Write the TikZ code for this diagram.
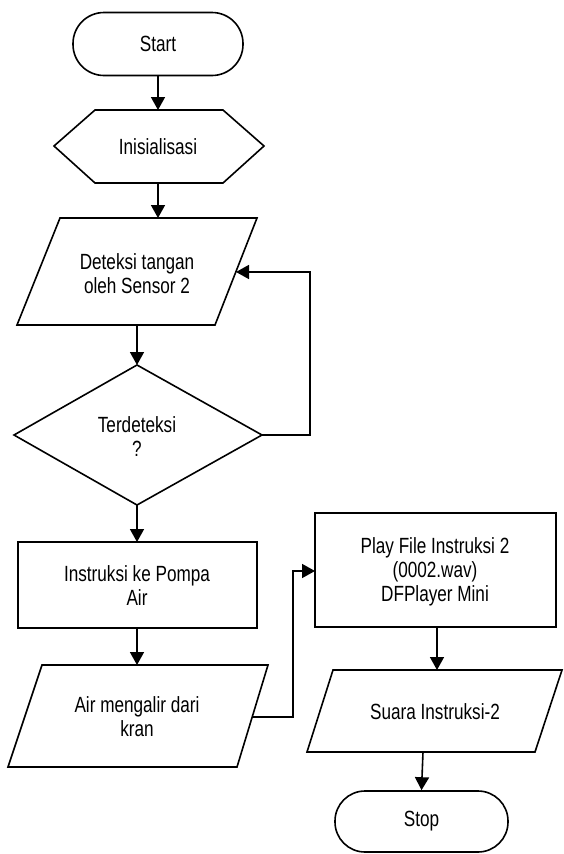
\documentclass[tikz,border=0pt]{standalone}
\usepackage{fontspec}
\setmainfont[FakeStretch=0.78]{Liberation Sans}
\usetikzlibrary{arrows.meta}
\begin{document}
\begin{tikzpicture}[x=1pt,y=-1pt,
  shp/.style={line width=1.6pt, line join=miter},
  lbl/.style={align=center, inner sep=0pt, font=\fontsize{22}{24}\selectfont},
  conn/.style={line width=1.6pt, -{Triangle[length=13pt,width=14pt]}},
  plain/.style={line width=1.6pt}]
\fill[white] (0,0) rectangle (563,854);
\useasboundingbox (0,0) rectangle (563,854);

% Start
\node[shp, draw, rounded corners=31pt, minimum width=170pt, minimum height=63pt, lbl] (start) at (158,44) {Start};
% Inisialisasi hexagon
\draw[shp] (54,146) -- (95,110) -- (223,110) -- (264,146) -- (223,183) -- (95,183) -- cycle;
\coordinate (iniT) at (158,110);
\coordinate (iniB) at (158,183);
\node[lbl] (ini) at (158,147) {Inisialisasi};
% Deteksi parallelogram
\draw[shp] (60,218) -- (257,218) -- (215,325) -- (17,325) -- cycle;
\coordinate (detT) at (158,218);
\coordinate (detB) at (137,325);
\coordinate (detR) at (236,272);
\node[lbl] (det) at (137,274) {Deteksi tangan\\oleh Sensor 2};
% Diamond
\draw[shp] (137,365) -- (262,435) -- (137,505) -- (14,435) -- cycle;
\coordinate (decT) at (137,365);
\coordinate (decR) at (262,435);
\coordinate (decB) at (137,505);
\node[lbl] (dec) at (137,437) {Terdeteksi\\?};
% Instruksi rect
\draw[shp] (18,542) rectangle (257,628);
\coordinate (insT) at (137,542);
\coordinate (insB) at (137,628);
\node[lbl] (ins) at (137,586) {Instruksi ke Pompa\\Air};
% Air parallelogram
\draw[shp] (42,665) -- (268,665) -- (237,767) -- (8,767) -- cycle;
\coordinate (airT) at (137,665);
\coordinate (airR) at (252,717);
\node[lbl] (air) at (137,717) {Air mengalir dari\\kran};
% Play rect
\draw[shp] (315,513) rectangle (556,627);
\coordinate (playL) at (315,571);
\coordinate (playB) at (437,627);
\node[lbl] (play) at (435,572) {Play File Instruksi 2\\(0002.wav)\\DFPlayer Mini};
% Suara parallelogram
\draw[shp] (333,670) -- (562,670) -- (535,752) -- (307,752) -- cycle;
\coordinate (suaT) at (437,670);
\coordinate (suaB) at (423,752);
\node[lbl] (sua) at (435,712) {Suara Instruksi-2};
% Stop
\node[shp, draw, rounded corners=30pt, minimum width=173pt, minimum height=61pt, lbl] (stop) at (421.5,821.5) {Stop};

% connectors
\draw[conn] (start.south) -- (iniT);
\draw[conn] (iniB) -- (detT);
\draw[conn] (detB) -- (decT);
\draw[conn] (decR) -- (310,435) -- (310,272) -- (detR);
\draw[conn] (decB) -- (insT);
\draw[conn] (insB) -- (airT);
\draw[conn] (airR) -- (293,717) -- (293,571) -- (playL);
\draw[conn] (playB) -- (suaT);
\draw[conn] (suaB) -- (stop.north);
\end{tikzpicture}
\end{document}
